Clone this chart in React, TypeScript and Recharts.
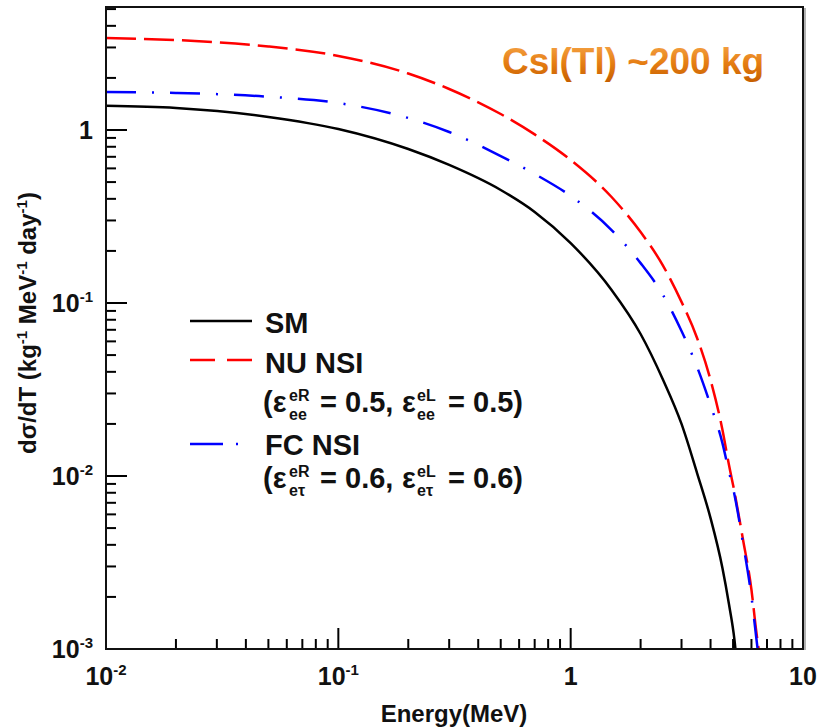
import { LineChart, Line, XAxis, YAxis } from 'recharts'

// energy grid (MeV) and differential rates
const energy = [0.01, 0.02, 0.05, 0.1, 0.2, 0.3, 0.5, 0.7, 1, 1.5, 2, 2.5, 3, 3.5, 4, 4.5, 4.8, 5.07, 5.5, 6, 6.3, 6.5]
const smRate = [1.38, 1.34, 1.19, 1.013, 0.776, 0.628, 0.45, 0.336, 0.222, 0.119, 0.0662, 0.0359, 0.02, 0.0104, 0.00571, 0.00294, 0.00182, 0.00113, 0.0003, null, null, null]
const nuNsiRate = [3.4, 3.31, 3.04, 2.68, 2.12, 1.726, 1.237, 0.943, 0.671, 0.41, 0.257, 0.164, 0.1015, 0.0628, 0.0359, 0.0185, 0.0116, 0.0081, 0.0044, 0.0022, 0.00125, 0.00092]
const fcNsiRate = [1.659, 1.637, 1.558, 1.432, 1.173, 0.974, 0.707, 0.557, 0.4155, 0.264, 0.17, 0.111, 0.0689, 0.0427, 0.0257, 0.0155, 0.0106, 0.0078, 0.0042, 0.002, 0.00115, 0.0008]

const xTicks = [
  0.01, 0.02, 0.03, 0.04, 0.05, 0.06, 0.07, 0.08, 0.09,
  0.1, 0.2, 0.3, 0.4, 0.5, 0.6, 0.7, 0.8, 0.9,
  1, 2, 3, 4, 5, 6, 7, 8, 9, 10,
]
const yTicks = [
  0.001, 0.002, 0.003, 0.004, 0.005, 0.006, 0.007, 0.008, 0.009,
  0.01, 0.02, 0.03, 0.04, 0.05, 0.06, 0.07, 0.08, 0.09,
  0.1, 0.2, 0.3, 0.4, 0.5, 0.6, 0.7, 0.8, 0.9,
  1, 2, 3, 4, 5,
]

const data = energy.map((e, i) => ({
  e,
  sm: smRate[i],
  nu: nuNsiRate[i],
  fc: fcNsiRate[i],
}))

const FONT = '"Liberation Sans", Arial, Helvetica, sans-serif'
const INK = '#111'

function isMajor(v: number) {
  const l = Math.log10(v)
  return Math.abs(l - Math.round(l)) < 1e-6
}

function PowLabel({ v, x, y, anchor }: { v: number; x: number; y: number; anchor: 'middle' | 'end' }) {
  const p = Math.round(Math.log10(v))
  const common = { x, y, textAnchor: anchor, fontFamily: FONT, fontWeight: 700, fontSize: 25, fill: INK } as const
  if (p === 0) return <text {...common}>1</text>
  if (p === 1) return <text {...common}>10</text>
  return (
    <text {...common}>
      10
      <tspan dy={-10} fontSize={15}>
        {p}
      </tspan>
    </text>
  )
}

function XTick(props: any) {
  const { x, y, payload } = props
  const major = isMajor(payload.value)
  const len = major ? 21 : 10
  return (
    <g>
      <line x1={x} y1={y} x2={x} y2={y - len} stroke="#000" strokeWidth={2} />
      {major && <PowLabel v={payload.value} x={x} y={y + 36} anchor="middle" />}
    </g>
  )
}

function YTick(props: any) {
  const { x, y, payload } = props
  const major = isMajor(payload.value)
  const len = major ? 21 : 10
  return (
    <g>
      <line x1={x} y1={y} x2={x + len} y2={y} stroke="#000" strokeWidth={2} />
      {major && <PowLabel v={payload.value} x={x - 13} y={y + 9} anchor="end" />}
    </g>
  )
}

function Epsilon({ y, sub, val }: { y: number; sub: string; val: string }) {
  const t = { fontFamily: FONT, fontWeight: 700, fill: INK } as const
  return (
    <g>
      <text {...t} x={263} y={y} fontSize={29}>(ε</text>
      <text {...t} x={289} y={y - 11} fontSize={16}>eR</text>
      <text {...t} x={289} y={y + 8} fontSize={16}>{sub}</text>
      <text {...t} x={320} y={y} fontSize={29}>= {val},</text>
      <text {...t} x={402} y={y} fontSize={29}>ε</text>
      <text {...t} x={417} y={y - 11} fontSize={16}>eL</text>
      <text {...t} x={417} y={y + 8} fontSize={16}>{sub}</text>
      <text {...t} x={448} y={y} fontSize={29}>= {val})</text>
    </g>
  )
}

function Overlay() {
  const t = { fontFamily: FONT, fontWeight: 700, fill: INK } as const
  return (
    <svg
      width={817}
      height={728}
      style={{ position: 'absolute', left: 0, top: 0, pointerEvents: 'none' }}
    >
      <defs>
        <linearGradient id="titleGrad" x1="0" y1="0" x2="0" y2="1">
          <stop offset="0%" stopColor="#f7a84c" />
          <stop offset="55%" stopColor="#e57d12" />
          <stop offset="100%" stopColor="#c65f00" />
        </linearGradient>
      </defs>
      <rect x={106} y={7} width={697} height={642} fill="none" stroke="#111" strokeWidth={2} />
      <line x1={805} y1={8} x2={805} y2={650} stroke="#999" strokeWidth={1.5} />

      <text x={633} y={74} textAnchor="middle" fontFamily={FONT} fontWeight={700} fontSize={37} fill="url(#titleGrad)">
        CsI(Tl) ~200 kg
      </text>

      {/* legend */}
      <line x1={190} y1={321} x2={252} y2={321} stroke="#000" strokeWidth={2.5} />
      <text {...t} x={265} y={333} fontSize={29}>SM</text>
      <line x1={190} y1={360} x2={252} y2={360} stroke="#ff0000" strokeWidth={2.5} strokeDasharray="25 12" />
      <text {...t} x={265} y={373} fontSize={29}>NU NSI</text>
      <Epsilon y={412} sub="ee" val="0.5" />
      <line x1={190} y1={444} x2={252} y2={444} stroke="#0000ff" strokeWidth={2.5} strokeDasharray="33 13 2 20" />
      <text {...t} x={265} y={455} fontSize={29}>FC NSI</text>
      <Epsilon y={488} sub="eτ" val="0.6" />

      {/* axis titles */}
      <text {...t} x={454} y={722} textAnchor="middle" fontSize={24}>Energy(MeV)</text>
      <text {...t} transform="rotate(-90)" x={-323} y={36} textAnchor="middle" fontSize={24}>
        dσ/dT (kg
        <tspan dy={-9} fontSize={15}>-1</tspan>
        <tspan dy={9}> MeV</tspan>
        <tspan dy={-9} fontSize={15}>-1</tspan>
        <tspan dy={9}> day</tspan>
        <tspan dy={-9} fontSize={15}>-1</tspan>
        <tspan dy={9}>)</tspan>
      </text>
    </svg>
  )
}

export default function App() {
  return (
    <div style={{ position: 'absolute', left: 0, top: 0, width: 817, height: 728, background: '#fff' }}>
      <LineChart width={817} height={728} data={data} margin={{ top: 7, right: 14, left: 0, bottom: 0 }}>
        <XAxis
          dataKey="e"
          type="number"
          scale="log"
          domain={[0.01, 10]}
          allowDataOverflow
          ticks={xTicks}
          interval={0}
          tick={<XTick />}
          tickLine={false}
          tickSize={0}
          tickMargin={0}
          axisLine={false}
          height={79}
        />
        <YAxis
          type="number"
          scale="log"
          domain={[0.001, 5.14]}
          allowDataOverflow
          ticks={yTicks}
          interval={0}
          tick={<YTick />}
          tickLine={false}
          tickSize={0}
          tickMargin={0}
          axisLine={false}
          width={106}
        />
        <Line type="monotone" dataKey="sm" stroke="#000000" strokeWidth={2.5} dot={false} isAnimationActive={false} />
        <Line type="monotone" dataKey="nu" stroke="#ff0000" strokeWidth={2.5} strokeDasharray="30 8" dot={false} isAnimationActive={false} />
        <Line type="monotone" dataKey="fc" stroke="#0000ff" strokeWidth={2.5} strokeDasharray="30 16 2 16" dot={false} isAnimationActive={false} />
      </LineChart>
      <Overlay />
    </div>
  )
}
